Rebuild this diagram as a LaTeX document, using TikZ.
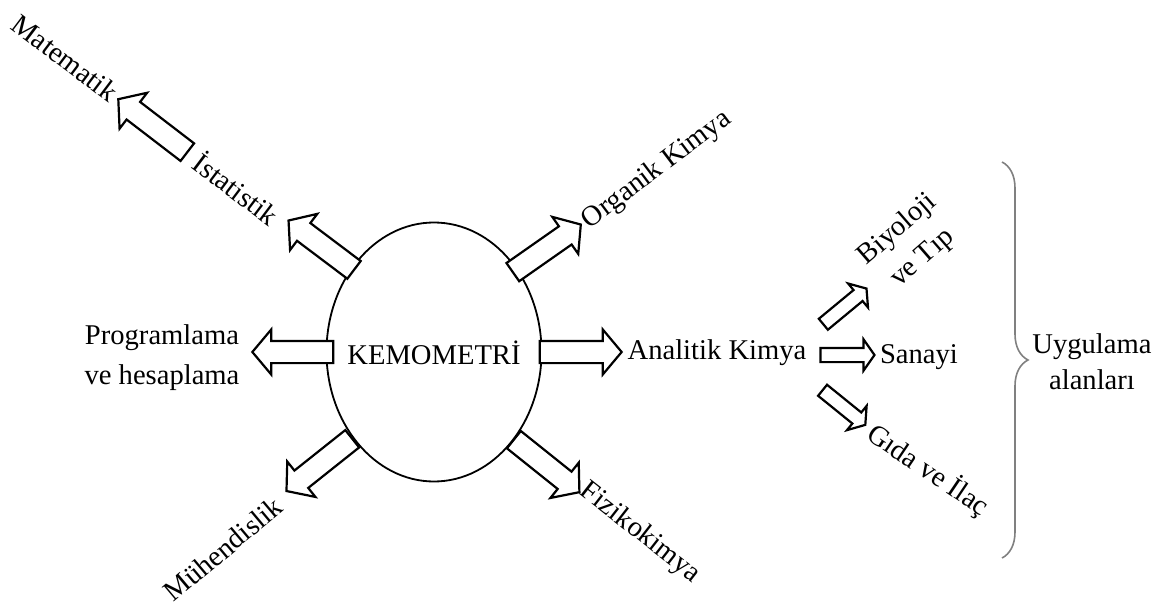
\documentclass[tikz,border=0pt]{standalone}
\usepackage{fontspec}
\setmainfont{Liberation Serif}
\usetikzlibrary{shapes.geometric,shapes.arrows,decorations.pathreplacing}

\begin{document}
\begin{tikzpicture}[
  x=0.5pt, y=-0.5pt, font=\fontsize{14.3}{17}\selectfont,
  lbl/.style={align=center, inner sep=0pt},
  barr/.style={single arrow, draw, line width=1.1pt, fill=white, inner sep=5pt, minimum width=0pt,
    single arrow head extend=5.75pt, single arrow tip angle=100, minimum height=#1},
  sarr/.style={single arrow, draw, line width=1.1pt, fill=white, inner sep=3pt, minimum width=0pt,
    single arrow head extend=4.25pt, single arrow tip angle=110, minimum height=#1}
]
\useasboundingbox (0,0) rectangle (1163,610);
\node[draw, ellipse, line width=0.9pt, minimum width=107.5pt, minimum height=129.5pt, inner sep=0pt] (kemo) at (434,352) {};
\node[lbl] (kemotxt) at (434,353) {KEMOMETRİ};

% labels round the centre
\node[lbl, rotate=-37] (mat) at (65,58) {Matematik};
\node[lbl, rotate=-37] (ist) at (237,188) {İstatistik};
\node[lbl, rotate=37] (org) at (657,170) {Organik Kimya};
\node[lbl, font=\fontsize{14.3}{20}\selectfont] (prog) at (162,358) {Programlama\\ve hesaplama};
\node[lbl, rotate=40] (muh) at (223,549) {Mühendislik};
\node[lbl, rotate=-38] (fiz) at (640,533) {Fizikokimya};
\node[lbl] (ana) at (717,353) {Analitik Kimya};

% application areas
\node[lbl, rotate=41, font=\fontsize{14.3}{19}\selectfont] (biy) at (910,244) {Biyoloji\\ve Tıp};
\node[lbl] (san) at (919,357) {Sanayi};
\node[lbl, rotate=-34] (gid) at (928,470) {Gıda ve İlaç};
\node[lbl, font=\fontsize{14.3}{18}\selectfont] (uyg) at (1092,362) {Uygulama\\alanları};

% block arrows
\node[barr=41pt, rotate=143] (aist) at (325,248) {};
\node[barr=41.5pt, rotate=35] (aorg) at (543,251) {};
\node[barr=40.5pt, rotate=180] (aprog) at (297.5,352) {};
\node[barr=41pt] (aana) at (576,352) {};
\node[barr=42pt, rotate=218.5] (amuh) at (323,462) {};
\node[barr=42pt, rotate=-38.7] (afiz) at (543,463) {};
\node[barr=43.5pt, rotate=142.5] (amat) at (156.5,128.5) {};

\node[sarr=28pt, rotate=39.6] (abiy) at (843,308) {};
\node[sarr=27pt] (asan) at (845,355) {};
\node[sarr=27.5pt, rotate=-39] (agid) at (842,406) {};

\coordinate (bt) at (1002,162);
\coordinate (bb) at (1002,558);
\draw[gray, line width=0.8pt, decorate, decoration={brace, amplitude=13pt}] (bt) -- (bb);
\end{tikzpicture}
\end{document}
